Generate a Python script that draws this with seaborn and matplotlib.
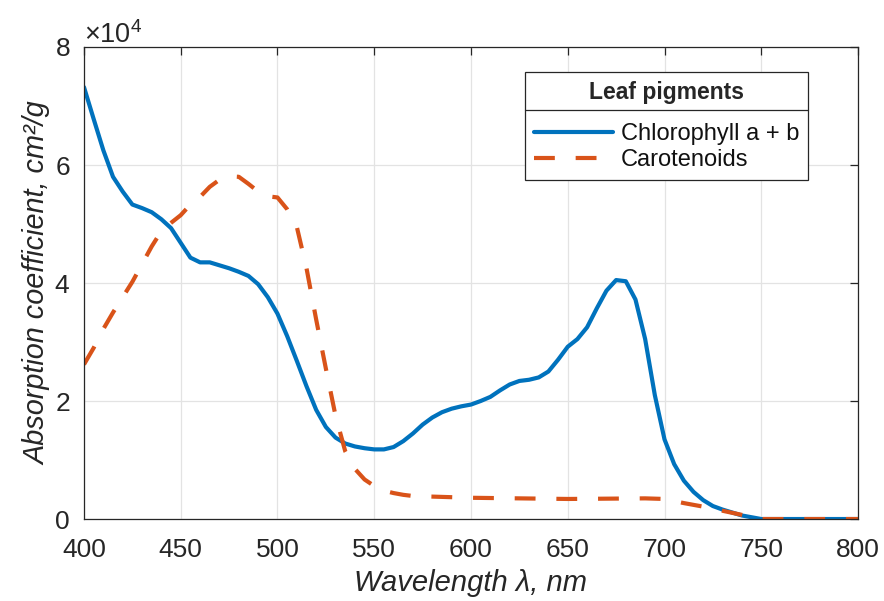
import numpy as np
import pandas as pd
import matplotlib
matplotlib.use('Agg')
import matplotlib.pyplot as plt
import seaborn as sns
from matplotlib.ticker import ScalarFormatter
from matplotlib.lines import Line2D

# ---- data (absorption in units of 1e4 cm^2/g) ----
SCALE = 1e4
chl_wl = [400, 405, 410, 415, 420, 425, 430, 435, 440, 445, 450, 455, 460, 465, 470,
          475, 480, 485, 490, 495, 500, 505, 510, 515, 520, 525, 530, 535, 540, 545,
          550, 555, 560, 565, 570, 575, 580, 585, 590, 595, 600, 605, 610, 615, 620,
          625, 630, 635, 640, 645, 650, 655, 660, 665, 670, 675, 680, 685, 690, 695,
          700, 705, 710, 715, 720, 725, 730, 735, 740, 745, 750, 760, 770, 780, 790, 800]
chl_abs = [7.32, 6.78, 6.25, 5.80, 5.55, 5.33, 5.27, 5.20, 5.08, 4.93, 4.68, 4.43, 4.35, 4.35, 4.30,
           4.25, 4.19, 4.12, 3.98, 3.76, 3.48, 3.10, 2.68, 2.25, 1.85, 1.56, 1.38, 1.28, 1.23, 1.20,
           1.18, 1.18, 1.22, 1.32, 1.45, 1.60, 1.72, 1.81, 1.87, 1.91, 1.94, 2.00, 2.07, 2.18, 2.28,
           2.34, 2.36, 2.40, 2.50, 2.70, 2.92, 3.05, 3.25, 3.57, 3.87, 4.05, 4.03, 3.72, 3.05, 2.10,
           1.35, 0.93, 0.65, 0.46, 0.32, 0.22, 0.16, 0.11, 0.06, 0.03, 0.0, 0.0, 0.0, 0.0, 0.0, 0.0]

car_wl = [400, 405, 410, 415, 420, 425, 430, 435, 440, 445, 450, 455, 460, 465, 470,
          475, 480, 485, 490, 495, 500, 505, 510, 515, 520, 525, 530, 535, 540, 545,
          550, 555, 560, 565, 570, 580, 600, 650, 690, 700, 710, 720, 730, 740, 750,
          760, 770, 780, 790, 800]
car_abs = [2.62, 2.90, 3.22, 3.50, 3.76, 4.02, 4.32, 4.62, 4.88, 5.02, 5.15, 5.33, 5.46, 5.63, 5.75,
           5.81, 5.80, 5.68, 5.55, 5.47, 5.45, 5.25, 4.95, 4.25, 3.38, 2.55, 1.75, 1.15, 0.85, 0.67,
           0.56, 0.48, 0.44, 0.41, 0.39, 0.38, 0.36, 0.34, 0.35, 0.34, 0.27, 0.21, 0.14, 0.07, 0.0,
           0.0, 0.0, 0.0, 0.0, 0.0]

series_names = ["Chlorophyll a + b", "Carotenoids"]
legend_title = "Leaf pigments"
x_ticks = [400, 450, 500, 550, 600, 650, 700, 750, 800]
y_ticks = [0, 2, 4, 6, 8]

# ---- style ----
sns.set_theme(style="white")
plt.rcParams['font.family'] = ['Liberation Sans', 'DejaVu Sans']
plt.rcParams['mathtext.fontset'] = 'custom'
plt.rcParams['mathtext.rm'] = 'Liberation Sans'
plt.rcParams['mathtext.it'] = 'Liberation Sans:italic'

DARK = '#262626'
BLUE = '#0072BD'
ORANGE = '#D95319'

fig = plt.figure(figsize=(8.84, 6.01), dpi=100)
ax = fig.add_axes([0.095, 0.1364, 0.8756, 0.7854])

chl_df = pd.DataFrame({'wl': chl_wl, 'abs': np.array(chl_abs) * SCALE})
car_df = pd.DataFrame({'wl': car_wl, 'abs': np.array(car_abs) * SCALE})

sns.lineplot(data=chl_df, x='wl', y='abs', ax=ax, color=BLUE, lw=3.0,
             label=series_names[0], sort=False)
sns.lineplot(data=car_df, x='wl', y='abs', ax=ax, color=ORANGE, lw=3.0,
             linestyle=(0, (5, 5.0)), dash_capstyle='butt', label=series_names[1], sort=False)

ax.set_xlim(400, 800)
ax.set_ylim(0, 8 * SCALE)
ax.set_xticks(x_ticks)
ax.set_yticks([v * SCALE for v in y_ticks])

fmt = ScalarFormatter(useMathText=True)
fmt.set_powerlimits((-3, 4))
ax.yaxis.set_major_formatter(fmt)
ax.yaxis.get_offset_text().set_fontsize(19.5)
ax.yaxis.get_offset_text().set_color('#404040')

ax.grid(True, color='#e3e3e3', lw=0.9)
for s in ax.spines.values():
    s.set_color(DARK)
    s.set_linewidth(0.9)
    s.set_visible(True)
ax.tick_params(direction='in', length=6, width=0.9, color=DARK, labelcolor=DARK,
               labelsize=19, top=True, right=True)
ax.tick_params(axis='x', pad=14)
ax.tick_params(axis='y', pad=10)

ax.set_xlabel('Wavelength λ, nm', fontsize=21, style='italic', color=DARK, labelpad=5)
ax.set_ylabel('Absorption coefficient, cm²/g', fontsize=20.8, style='italic', color=DARK, labelpad=2)

leg = ax.legend(loc='upper right', bbox_to_anchor=(0.935, 0.947), fontsize=17,
                title=legend_title, title_fontproperties={'weight': 'bold', 'size': 16.5},
                frameon=True, fancybox=False, framealpha=1, edgecolor=DARK,
                handlelength=3.35, borderpad=0.36, labelspacing=0.18, handletextpad=0.34,
                borderaxespad=0)
leg.get_frame().set_linewidth(0.9)
for t in leg.get_texts():
    t.set_color('#111111')
leg._legend_box.sep = 14

# separator line under legend title
fig.canvas.draw()
r = fig.canvas.get_renderer()
fb = leg.get_frame().get_window_extent(r)
tb = leg.get_title().get_window_extent(r)
ysep = tb.y0 - 6
inv = fig.transFigure.inverted()
(x0, y0) = inv.transform((fb.x0, ysep))
(x1, _) = inv.transform((fb.x1, ysep))
fig.add_artist(Line2D([x0, x1], [y0, y0], color=DARK, lw=0.9, zorder=10))

fig.savefig('out.png', dpi=100, facecolor='white')
